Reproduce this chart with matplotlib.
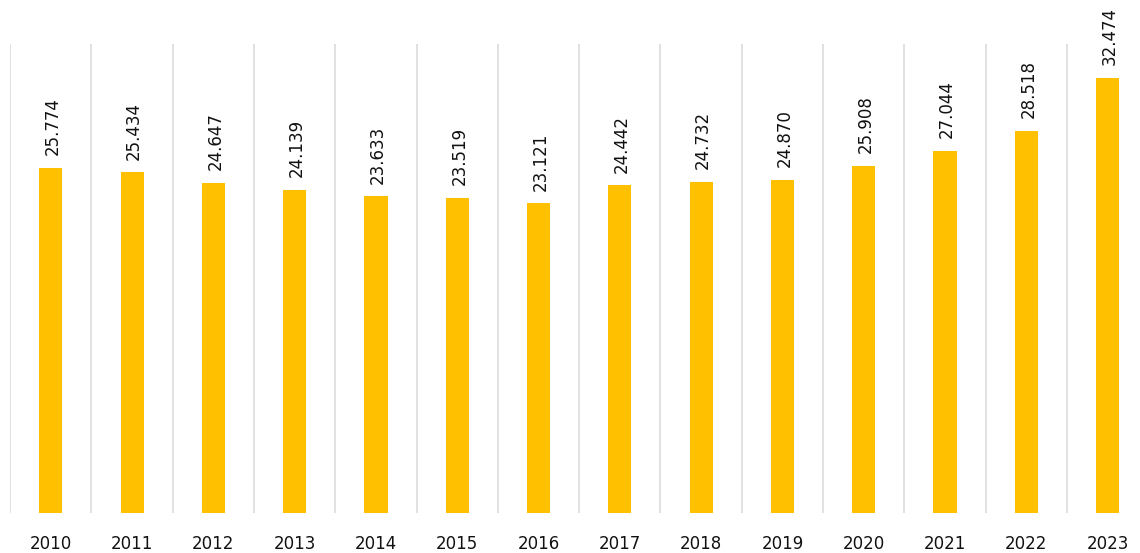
import matplotlib
matplotlib.use("Agg")
import matplotlib.pyplot as plt

years = ["2010", "2011", "2012", "2013", "2014", "2015", "2016",
         "2017", "2018", "2019", "2020", "2021", "2022", "2023"]
values = [25.774, 25.434, 24.647, 24.139, 23.633, 23.519, 23.121,
          24.442, 24.732, 24.870, 25.908, 27.044, 28.518, 32.474]
value_labels = ["25.774", "25.434", "24.647", "24.139", "23.633", "23.519", "23.121",
                "24.442", "24.732", "24.870", "25.908", "27.044", "28.518", "32.474"]

W, H = 1140, 553
fig = plt.figure(figsize=(W / 100, H / 100), dpi=100)
ax = fig.add_axes([10.2 / W, 1 - 513 / H, 1138 / W, (513 - 44) / H])

x = list(range(len(years)))
ax.bar(x, values, width=0.285, color="#FFC000", zorder=3)

for i, (v, lab) in enumerate(zip(values, value_labels)):
    ax.annotate(lab, (i, v), xytext=(1.5, 9), textcoords="offset points",
                ha="center", va="bottom", rotation=90, fontsize=12,
                color="#111111", family="DejaVu Sans")

for k in range(len(years) + 1):
    ax.axvline(k - 0.5, color="#d9d9d9", lw=1.1, zorder=1)

ax.set_xlim(-0.5, len(years) - 0.5)
ax.set_ylim(0, 35)
ax.set_xticks(x)
ax.set_xticklabels(years, fontsize=12, color="#111111")
ax.set_yticks([])
ax.tick_params(axis="x", length=0, pad=16)
for s in ax.spines.values():
    s.set_visible(False)

fig.savefig("out.png", dpi=100)
